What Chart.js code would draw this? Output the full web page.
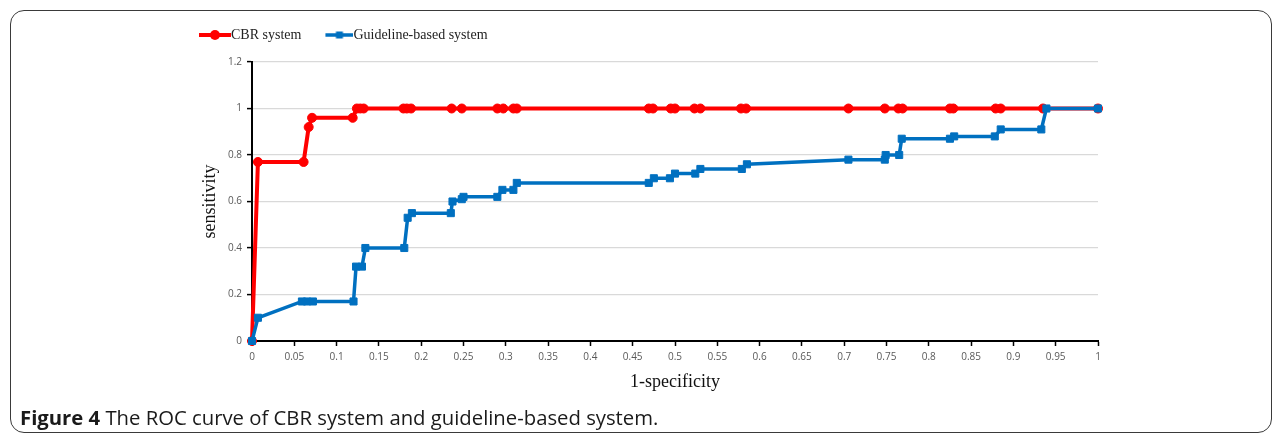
<!DOCTYPE html>
<html>
<head>
<meta charset="utf-8">
<script src="https://cdn.jsdelivr.net/npm/chart.js@4.4.1/dist/chart.umd.min.js"></script>
<style>
  html, body { margin: 0; padding: 0; background: #fff; width: 1281px; height: 434px; overflow: hidden; }
  #frame { position: absolute; left: 10px; top: 10px; width: 1262px; height: 423px; border: 1.5px solid #3a3a3a; border-radius: 14px; box-sizing: border-box; }
  #wrap { position: absolute; left: 0; top: 0; width: 1281px; height: 434px; }
  #caption { position: absolute; left: 20px; top: 405px; font-family: "Open Sans", sans-serif; font-size: 20.3px; line-height: 24px; color: #1a1a1a; white-space: nowrap; }
  #caption b { font-weight: 700; }
</style>
</head>
<body>
<div id="frame"></div>
<div id="wrap"><canvas id="roc" width="1281" height="434"></canvas></div>
<div id="caption"><b>Figure 4</b> The ROC curve of CBR system and guideline-based system.</div>
<script>
// Series names
const seriesNames = ['CBR system', 'Guideline-based system'];

// CBR system: false positive rate (1-specificity) and sensitivity
const cbrFpr = [0, 0.007, 0.061, 0.067, 0.071, 0.119, 0.124, 0.128, 0.132, 0.179, 0.183, 0.188,
  0.236, 0.248, 0.29, 0.297, 0.309, 0.313, 0.469, 0.474, 0.495, 0.5, 0.523, 0.53, 0.578, 0.584,
  0.705, 0.748, 0.764, 0.769, 0.825, 0.829, 0.879, 0.885, 0.935, 1];
const cbrTpr = [0, 0.77, 0.77, 0.92, 0.96, 0.96, 1, 1, 1, 1, 1, 1,
  1, 1, 1, 1, 1, 1, 1, 1, 1, 1, 1, 1, 1, 1,
  1, 1, 1, 1, 1, 1, 1, 1, 1, 1];

// Guideline-based system
const guideFpr = [0, 0.007, 0.059, 0.065, 0.072, 0.12, 0.123, 0.13, 0.134, 0.18, 0.184, 0.189,
  0.235, 0.237, 0.248, 0.25, 0.29, 0.296, 0.309, 0.313, 0.469, 0.475, 0.494, 0.5, 0.524, 0.53,
  0.579, 0.585, 0.705, 0.748, 0.749, 0.765, 0.768, 0.825, 0.83, 0.878, 0.885, 0.933, 0.939, 1];
const guideTpr = [0, 0.1, 0.17, 0.17, 0.17, 0.17, 0.32, 0.32, 0.4, 0.4, 0.53, 0.55,
  0.55, 0.6, 0.61, 0.62, 0.62, 0.65, 0.65, 0.68, 0.68, 0.7, 0.7, 0.72, 0.72, 0.74,
  0.74, 0.76, 0.78, 0.78, 0.8, 0.8, 0.87, 0.87, 0.88, 0.88, 0.91, 0.91, 1, 1];

// Axis ticks
const xTickValues = [0, 0.05, 0.1, 0.15, 0.2, 0.25, 0.3, 0.35, 0.4, 0.45, 0.5, 0.55, 0.6, 0.65, 0.7, 0.75, 0.8, 0.85, 0.9, 0.95, 1];
const xTickLabels = ['0', '0.05', '0.1', '0.15', '0.2', '0.25', '0.3', '0.35', '0.4', '0.45', '0.5', '0.55', '0.6', '0.65', '0.7', '0.75', '0.8', '0.85', '0.9', '0.95', '1'];
const yTickValues = [0, 0.2, 0.4, 0.6, 0.8, 1, 1.2];
const yTickLabels = ['0', '0.2', '0.4', '0.6', '0.8', '1', '1.2'];

const RED = '#ff0000';
const BLUE = '#0070c0';

const toPoints = (xs, ys) => xs.map((x, i) => ({ x: x, y: ys[i] }));

// Legend swatch: a short line with the series marker, right-aligned in the image
function legendSwatch(color, lineWidth, marker, span, total) {
  const c = document.createElement('canvas');
  c.width = total; c.height = 14;
  const g = c.getContext('2d');
  g.strokeStyle = color; g.fillStyle = color; g.lineWidth = lineWidth;
  g.beginPath(); g.moveTo(total - span, 7); g.lineTo(total, 7); g.stroke();
  const cx = total - span / 2;
  if (marker === 'circle') {
    g.beginPath(); g.arc(cx, 7, 5, 0, Math.PI * 2); g.fill();
  } else {
    g.fillRect(cx - 3.5, 3.5, 7, 7);
  }
  return c;
}

const LEGEND_BOX = 35;
const swatches = [
  legendSwatch(RED, 4, 'circle', 32, LEGEND_BOX + 14),
  legendSwatch(BLUE, 3.5, 'rect', 28, LEGEND_BOX + 14)
];

// Leaves a gap between the legend row and the plot area
const legendGap = {
  id: 'legendGap',
  afterLayout(chart, args, opts) {
    const lg = chart.legend;
    if (lg) { lg.top -= opts.gap; lg.bottom -= opts.gap; }
  }
};

const tickFont = { family: '"Open Sans", sans-serif', size: 10 };
const tickColor = '#595959';
const titleFont = { family: '"Liberation Serif", "Times New Roman", serif', size: 18 };

new Chart(document.getElementById('roc'), {
  type: 'line',
  plugins: [legendGap],
  data: {
    datasets: [
      {
        label: seriesNames[0],
        data: toPoints(cbrFpr, cbrTpr),
        borderColor: RED, backgroundColor: RED,
        borderWidth: 4,
        pointStyle: 'circle', pointRadius: 4.5, pointBorderWidth: 1,
        pointBackgroundColor: RED, pointBorderColor: RED,
        tension: 0, clip: false, order: 1
      },
      {
        label: seriesNames[1],
        data: toPoints(guideFpr, guideTpr),
        borderColor: BLUE, backgroundColor: BLUE,
        borderWidth: 3.5,
        pointStyle: 'rect', pointRadius: 5, pointBorderWidth: 1,
        pointBackgroundColor: BLUE, pointBorderColor: BLUE,
        tension: 0, clip: false, order: 0
      }
    ]
  },
  options: {
    responsive: false,
    animation: false,
    events: [],
    layout: { padding: { left: 179, right: 183, top: 28, bottom: 40 } },
    plugins: {
      tooltip: { enabled: false },
      legendGap: { gap: 10 },
      legend: {
        position: 'top',
        align: 'start',
        labels: {
          usePointStyle: true,
          pointStyleWidth: LEGEND_BOX,
          padding: 10,
          color: '#222',
          font: { family: '"Liberation Serif", "Times New Roman", serif', size: 14 },
          generateLabels: (chart) => chart.data.datasets.map((ds, i) => ({
            text: ds.label,
            datasetIndex: i,
            pointStyle: swatches[i],
            fillStyle: ds.borderColor,
            strokeStyle: ds.borderColor,
            lineWidth: 0,
            hidden: false,
            fontColor: '#222'
          }))
        }
      }
    },
    scales: {
      x: {
        type: 'linear',
        min: 0, max: 1,
        afterBuildTicks: (s) => { s.ticks = xTickValues.map(v => ({ value: v })); },
        afterFit: (s) => { s.height = 53; s.paddingLeft = 0; s.paddingRight = 0; },
        ticks: {
          autoSkip: false, maxRotation: 0, minRotation: 0,
          padding: 5, color: tickColor, font: tickFont,
          callback: (v, i) => xTickLabels[i]
        },
        grid: { drawOnChartArea: false, drawTicks: true, tickLength: 5, tickColor: '#000', tickWidth: 1.5 },
        border: { color: '#000', width: 2 },
        title: { display: true, text: '1-specificity', color: '#111', font: titleFont, padding: { top: 0, bottom: 1 } }
      },
      y: {
        type: 'linear',
        min: 0, max: 1.2,
        afterBuildTicks: (s) => { s.ticks = yTickValues.map(v => ({ value: v })); },
        afterFit: (s) => { s.width = 73; },
        ticks: {
          padding: 5, color: tickColor, font: tickFont,
          callback: (v, i) => yTickLabels[i]
        },
        grid: { color: '#d9d9d9', lineWidth: 1.2, drawTicks: true, tickLength: 5, tickColor: '#000', tickWidth: 1.5 },
        border: { color: '#000', width: 2 },
        title: { display: true, text: 'sensitivity', color: '#111', font: titleFont, padding: { top: 20, bottom: 0 } }
      }
    }
  }
});
</script>
</body>
</html>
